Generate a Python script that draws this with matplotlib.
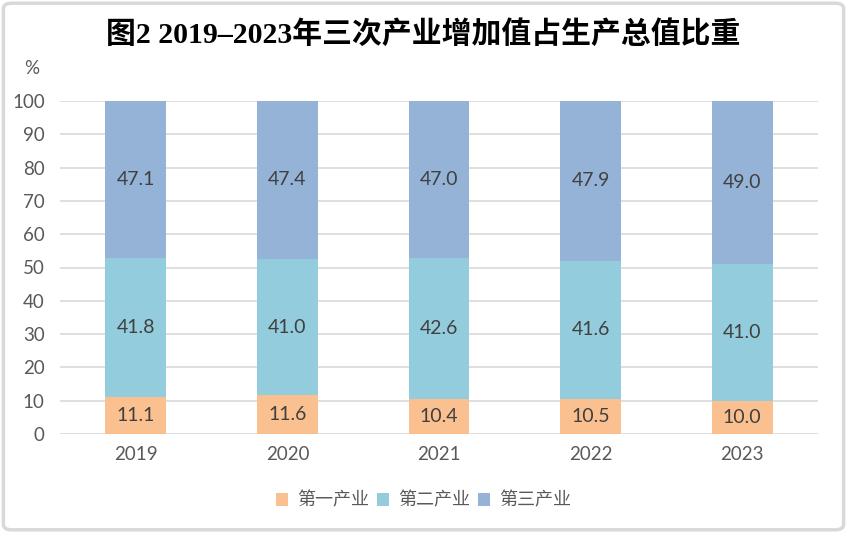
import matplotlib
matplotlib.use('Agg')
import matplotlib.pyplot as plt
from matplotlib.patches import FancyBboxPatch
import numpy as np

# 数据
years = ['2019', '2020', '2021', '2022', '2023']
primary = [11.1, 11.6, 10.4, 10.5, 10.0]
secondary = [41.8, 41.0, 42.6, 41.6, 41.0]
tertiary = [47.1, 47.4, 47.0, 47.9, 49.0]
series_names = ['第一产业', '第二产业', '第三产业']
colors = ['#FAC090', '#93CDDD', '#95B3D7']

plt.rcParams['font.family'] = ['Lato', 'Noto Sans CJK SC', 'DejaVu Sans']

fig = plt.figure(figsize=(8.47, 5.33), dpi=100)
ax = fig.add_axes([60 / 847, 1 - 434 / 533, 758 / 847, 333 / 533])

x = np.arange(len(years))
bottoms = np.zeros(len(years))
for vals, name, c in zip([primary, secondary, tertiary], series_names, colors):
    ax.bar(x, vals, width=0.4, bottom=bottoms, color=c, label=name, zorder=2)
    for xi, v, b in zip(x, vals, bottoms):
        ax.text(xi, b + v / 2, f'{v:.1f}', ha='center', va='center',
                fontsize=14, color='#404040', zorder=3)
    bottoms = bottoms + np.array(vals)

ax.set_xlim(-0.5, len(years) - 0.5)
ax.set_ylim(0, 100)
ax.set_yticks(range(0, 101, 10))
ax.set_xticks(x)
ax.set_xticklabels(years)
ax.yaxis.grid(True, color='#d9d9d9', linewidth=1.2, zorder=0)
ax.set_axisbelow(True)
for s in ax.spines.values():
    s.set_visible(False)
ax.tick_params(axis='both', length=0, labelsize=13.5, colors='#595959')
ax.tick_params(axis='x', pad=9)
ax.tick_params(axis='y', pad=11)

fig.text(32 / 847, 1 - 69 / 533, '%', ha='center', va='center',
         fontsize=13.5, color='#595959')

fig.text(0.5, 1 - 34 / 533, '图2 2019–2023年三次产业增加值占生产总值比重',
         ha='center', va='center', fontsize=21.5, fontweight='bold',
         family=['Liberation Serif', 'Noto Sans CJK SC'], color='black')

leg = fig.legend(loc='center', bbox_to_anchor=(0.5, 1 - 500 / 533), ncol=3,
                 frameon=False, fontsize=13, handlelength=0.7, handleheight=0.7,
                 handletextpad=0.5, columnspacing=0.4)
for t in leg.get_texts():
    t.set_color('#595959')

border = FancyBboxPatch((0.004, 0.006), 0.992, 0.988, boxstyle='round,pad=0,rounding_size=0.01',
                        transform=fig.transFigure, fill=False,
                        edgecolor='#d9d9d9', linewidth=2.5)
fig.patches.append(border)

fig.savefig('out.png', dpi=100)
